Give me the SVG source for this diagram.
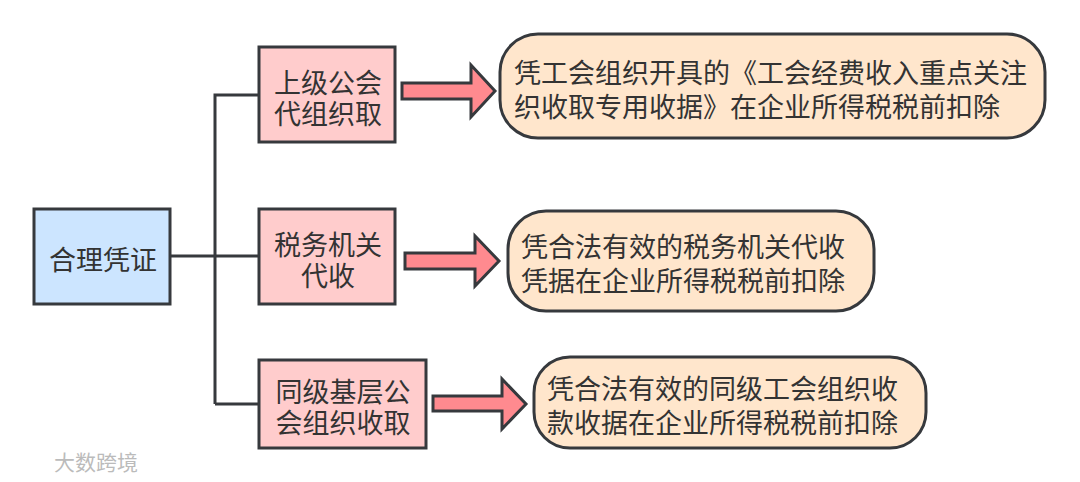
<svg xmlns="http://www.w3.org/2000/svg" width="1080" height="482" viewBox="0 0 1080 482">
<style>
text{font-family:"Noto Sans CJK SC","Liberation Sans",sans-serif;font-size:27px;fill:#333;text-anchor:middle}
.l{text-anchor:start}
.n{fill:#ffcccc;stroke:#36393d;stroke-width:3}
.o{fill:#ffe6cc;stroke:#36393d;stroke-width:3}
.a{fill:#ff8a8f;stroke:#36393d;stroke-width:3;stroke-linejoin:miter}
.c{fill:none;stroke:#36393d;stroke-width:3}
</style>
<rect width="1080" height="482" fill="#fff"/>
<g id="connectors">
<path class="c" d="M170 256H259M215 404V95H259M215 404H259"/>
<path class="a" d="M402 83H471V65L495 91L471 117V99H402Z"/>
<path class="a" d="M405 253H475V236L499 261L475 286V269H405Z"/>
<path class="a" d="M433 396H502V379L526 404L502 429V411H433Z"/>
</g>
<g id="root"><rect x="34" y="209" width="136" height="95" fill="#cce5ff" stroke="#36393d" stroke-width="3"/><text x="103" y="270">合理凭证</text></g>
<g id="n1"><rect class="n" x="259" y="47" width="136" height="95"/><text x="328" y="93">上级公会</text><text x="328" y="124">代组织取</text></g>
<g id="n2"><rect class="n" x="259" y="209" width="136" height="95"/><text x="328" y="255">税务机关</text><text x="328" y="286">代收</text></g>
<g id="n3"><rect class="n" x="259" y="360" width="167" height="88"/><text x="343" y="402">同级基层公</text><text x="343" y="433">会组织收取</text></g>
<g id="r1"><rect class="o" x="500" y="34" width="545" height="104" rx="38"/><text class="l" x="514" y="83">凭工会组织开具的《工会经费收入重点关注</text><text class="l" x="514" y="117">织收取专用收据》在企业所得税税前扣除</text></g>
<g id="r2"><rect class="o" x="508" y="211" width="366" height="100" rx="38"/><text class="l" x="521" y="257">凭合法有效的税务机关代收</text><text class="l" x="521" y="291">凭据在企业所得税税前扣除</text></g>
<g id="r3"><rect class="o" x="534" y="357" width="392" height="91" rx="36"/><text class="l" x="547" y="399">凭合法有效的同级工会组织收</text><text class="l" x="547" y="433">款收据在企业所得税税前扣除</text></g>
<text x="96" y="470" style="font-size:21px;fill:#bbb">大数跨境</text>
</svg>
